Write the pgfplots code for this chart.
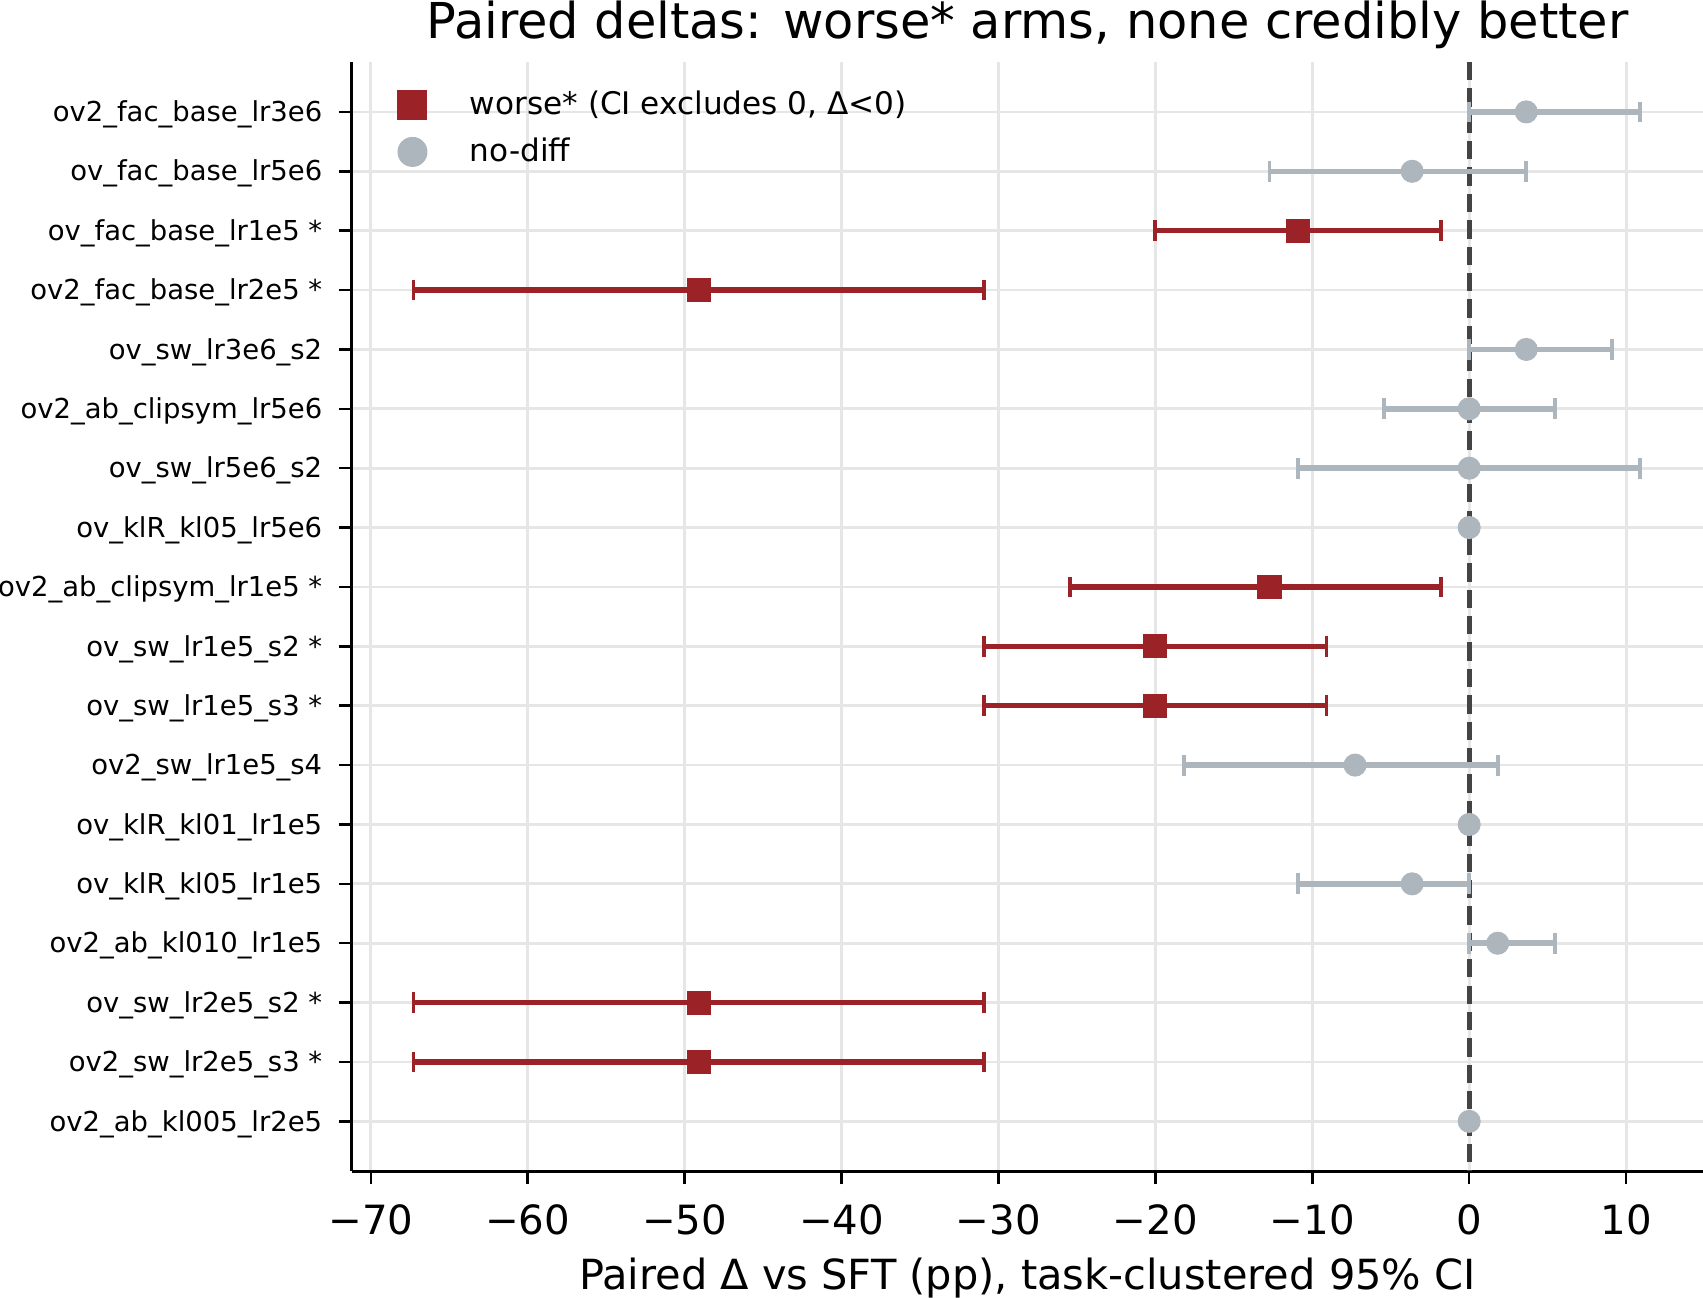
\documentclass[border=0pt]{standalone}
\usepackage{fontspec}
\setmainfont{DejaVu Sans}
\usepackage{pgfplots}
\usepackage{pgfplotstable}
\pgfplotsset{compat=1.18}
\definecolor{worsered}{HTML}{9B2226}
\definecolor{nodiffgray}{HTML}{ADB5BD}
\definecolor{zeroline}{HTML}{444444}
\definecolor{gridc}{HTML}{E6E6E6}

% worse* arms: row, delta, minus, plus
\pgfplotstableread{
y x em ep
2 -10.909 9.091 9.091
3 -49.091 18.182 18.182
8 -12.727 12.727 10.909
9 -20.000 10.909 10.909
10 -20.000 10.909 10.909
15 -49.091 18.182 18.182
16 -49.091 18.182 18.182
}\worse
% no-diff arms with CI
\pgfplotstableread{
y x em ep
0 3.636 3.636 7.273
1 -3.636 9.091 7.273
4 3.636 3.636 5.455
5 0.000 5.455 5.455
6 0.000 10.909 10.909
11 -7.273 10.909 9.091
13 -3.636 7.273 3.636
14 1.818 1.818 3.636
}\nodiff
% no-diff arms with zero-width CI
\pgfplotstableread{
y x
7 0
12 0
17 0
}\nodiffzero

\pgfplotsset{
  legend image code/.code={%
    \path (-5.5pt,0pt) (20.5pt,0pt);
    \draw[#1, mark size=5.2pt, mark repeat=1] plot coordinates {(0pt,0pt)};
  },
}

\begin{document}
\begin{tikzpicture}
\useasboundingbox (-126.7pt,-45.5pt) rectangle (486.4pt,421.7pt);
\begin{axis}[
  at={(0,0)}, anchor=south west,
  scale only axis, width=486.4pt, height=399.4pt,
  xmin=-71.2, xmax=14.9, ymin=-0.842, ymax=17.842, y dir=reverse,
  axis lines*=left,
  axis line style={-, line width=1.1pt, black},
  tick align=outside, major tick length=4.7pt,
  every tick/.style={black, line width=0.9pt},
  xtick={-70,-60,-50,-40,-30,-20,-10,0,10},
  xticklabels={−70,−60,−50,−40,−30,−20,−10,0,10},
  ytick={0,1,...,17},
  yticklabels={
    ov2\_fac\_base\_lr3e6,
    ov\_fac\_base\_lr5e6,
    ov\_fac\_base\_lr1e5 *,
    ov2\_fac\_base\_lr2e5 *,
    ov\_sw\_lr3e6\_s2,
    ov2\_ab\_clipsym\_lr5e6,
    ov\_sw\_lr5e6\_s2,
    ov\_klR\_kl05\_lr5e6,
    ov2\_ab\_clipsym\_lr1e5 *,
    ov\_sw\_lr1e5\_s2 *,
    ov\_sw\_lr1e5\_s3 *,
    ov2\_sw\_lr1e5\_s4,
    ov\_klR\_kl01\_lr1e5,
    ov\_klR\_kl05\_lr1e5,
    ov2\_ab\_kl010\_lr1e5,
    ov\_sw\_lr2e5\_s2 *,
    ov2\_sw\_lr2e5\_s3 *,
    ov2\_ab\_kl005\_lr2e5},
  xticklabel style={font=\fontsize{14.5}{17}\selectfont, inner sep=0pt, anchor=north, yshift=-7pt},
  yticklabel style={font=\fontsize{9.88}{12}\selectfont, inner sep=0pt, anchor=east, xshift=-5.8pt, yshift=-0.9pt},
  grid=major,
  major grid style={line width=1pt, gridc},
  xlabel={Paired Δ vs SFT (pp), task-clustered 95\% CI},
  every axis x label/.style={at={(axis description cs:0.5,0)}, anchor=base, yshift=-42.7pt, font=\fontsize{14.95}{18}\selectfont},
  title={Paired deltas: worse* arms, none credibly better},
  every axis title/.style={at={(axis description cs:0.5,1)}, anchor=base, yshift=8.3pt, font=\fontsize{17.8}{21}\selectfont},
  legend style={draw=none, fill=none, at={(axis description cs:0,1)}, anchor=north west,
    xshift=16.1pt, yshift=-10.2pt, inner sep=0pt, outer sep=0pt,
    row sep=6.6pt, column sep=0pt,
    nodes={inner sep=0pt, font=\fontsize{11.2}{13}\selectfont}},
  legend cell align=left,
  clip=false,
]
\draw[zeroline, line width=1.8pt, dash pattern=on 6.6pt off 2.9pt] (axis cs:0,-0.842) -- (axis cs:0,17.842);

\addplot[only marks, mark=square*, mark size=4.15pt, color=worsered,
  mark options={fill=worsered, draw=worsered},
  error bars/.cd, x dir=both, x explicit,
  error bar style={line width=2pt, worsered},
  error mark options={line width=1.4pt, mark size=3.75pt, worsered, rotate=90}]
  table[x=x, y=y, x error minus=em, x error plus=ep] {\worse};
\addlegendentry{worse* (CI excludes 0, Δ<0)}

\addplot[only marks, mark=*, mark size=3.95pt, color=nodiffgray,
  mark options={fill=nodiffgray, draw=nodiffgray},
  error bars/.cd, x dir=both, x explicit,
  error bar style={line width=2pt, nodiffgray},
  error mark options={line width=1.4pt, mark size=3.75pt, nodiffgray, rotate=90}]
  table[x=x, y=y, x error minus=em, x error plus=ep] {\nodiff};
\addlegendentry{no-diff}

\addplot[only marks, mark=*, mark size=3.95pt, color=nodiffgray, forget plot,
  mark options={fill=nodiffgray, draw=nodiffgray}]
  table[x=x, y=y] {\nodiffzero};
\end{axis}
\end{tikzpicture}
\end{document}
